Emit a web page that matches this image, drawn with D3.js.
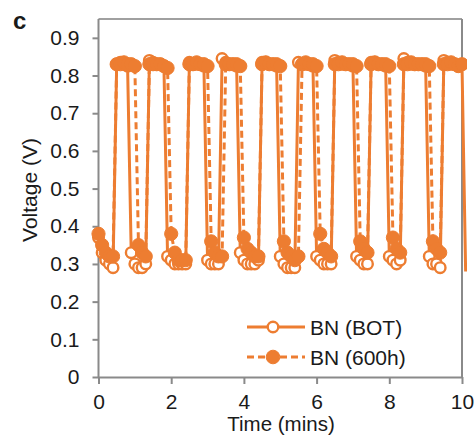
<!DOCTYPE html>
<html>
<head>
<meta charset="utf-8">
<script src="https://cdn.jsdelivr.net/npm/d3@7"></script>
<style>
  html, body { margin: 0; padding: 0; background: #fff; }
  svg text { font-family: "Liberation Sans", Arial, sans-serif; fill: #1a1a1a; }
</style>
</head>
<body>
<svg id="chart" width="476" height="439"></svg>
<script>
// ---- data ----
const seriesNames = ["BN (BOT)", "BN (600h)"];

const timeBOT = [0.0,0.1,0.2,0.3,0.4,0.5,0.6,0.7,0.8,0.9,1.0,1.1,1.2,1.3,1.4,1.5,1.6,1.7,1.8,1.9,
  2.0,2.1,2.2,2.3,2.4,2.5,2.6,2.7,2.8,2.9,3.0,3.1,3.2,3.3,3.4,3.5,3.6,3.7,3.8,3.9,
  4.0,4.1,4.2,4.3,4.4,4.5,4.6,4.7,4.8,4.9,5.0,5.1,5.2,5.3,5.4,5.5,5.6,5.7,5.8,5.9,
  6.0,6.1,6.2,6.3,6.4,6.5,6.6,6.7,6.8,6.9,7.0,7.1,7.2,7.3,7.4,7.5,7.6,7.7,7.8,7.9,
  8.0,8.1,8.2,8.3,8.4,8.5,8.6,8.7,8.8,8.9,9.0,9.1,9.2,9.3,9.4,9.5,9.6,9.7,9.8,9.9,10.0,10.1];
const voltBOT = [0.37,0.33,0.31,0.30,0.29,0.83,0.835,0.83,0.825,0.33,0.30,0.29,0.29,0.30,0.84,0.835,0.83,0.83,0.825,0.32,
  0.31,0.30,0.30,0.30,0.30,0.835,0.83,0.83,0.83,0.825,0.31,0.30,0.30,0.30,0.845,0.835,0.83,0.83,0.825,0.33,
  0.31,0.30,0.30,0.30,0.31,0.835,0.835,0.83,0.83,0.825,0.32,0.30,0.29,0.29,0.29,0.835,0.83,0.83,0.83,0.825,
  0.32,0.31,0.30,0.30,0.30,0.84,0.835,0.83,0.83,0.83,0.825,0.32,0.31,0.30,0.30,0.835,0.835,0.83,0.83,0.825,
  0.32,0.31,0.30,0.31,0.845,0.835,0.83,0.83,0.83,0.83,0.825,0.32,0.30,0.30,0.29,0.84,0.835,0.83,0.83,0.825,0.83,0.28];

const time600 = [0.0,0.1,0.2,0.3,0.4,0.5,0.6,0.7,0.8,0.9,1.0,1.1,1.2,1.3,1.4,1.5,1.6,1.7,1.8,1.9,
  2.0,2.1,2.2,2.3,2.4,2.5,2.6,2.7,2.8,2.9,3.0,3.1,3.2,3.3,3.4,3.5,3.6,3.7,3.8,3.9,
  4.0,4.1,4.2,4.3,4.4,4.5,4.6,4.7,4.8,4.9,5.0,5.1,5.2,5.3,5.4,5.5,5.6,5.7,5.8,5.9,
  6.0,6.1,6.2,6.3,6.4,6.5,6.6,6.7,6.8,6.9,7.0,7.1,7.2,7.3,7.4,7.5,7.6,7.7,7.8,7.9,
  8.0,8.1,8.2,8.3,8.4,8.5,8.6,8.7,8.8,8.9,9.0,9.1,9.2,9.3,9.4,9.5,9.6,9.7,9.8,9.9,10.0];
const volt600 = [0.38,0.35,0.33,0.32,0.32,0.83,0.83,0.835,0.83,0.83,0.825,0.35,0.33,0.32,0.83,0.83,0.83,0.83,0.825,0.82,
  0.38,0.33,0.31,0.31,0.31,0.83,0.83,0.835,0.83,0.83,0.825,0.36,0.33,0.32,0.32,0.83,0.83,0.83,0.83,0.825,
  0.37,0.34,0.33,0.32,0.32,0.83,0.835,0.83,0.83,0.83,0.825,0.36,0.33,0.32,0.31,0.32,0.83,0.835,0.83,0.83,
  0.825,0.38,0.34,0.33,0.32,0.83,0.83,0.835,0.83,0.83,0.83,0.825,0.36,0.34,0.33,0.83,0.835,0.83,0.83,0.83,
  0.825,0.37,0.34,0.33,0.83,0.83,0.835,0.83,0.83,0.83,0.83,0.825,0.36,0.34,0.33,0.83,0.83,0.835,0.83,0.825,0.83];

const xTicks = [0, 2, 4, 6, 8, 10];
const yTicks = [0, 0.1, 0.2, 0.3, 0.4, 0.5, 0.6, 0.7, 0.8, 0.9];
const yTickLabels = ["0", "0.1", "0.2", "0.3", "0.4", "0.5", "0.6", "0.7", "0.8", "0.9"];

// ---- layout ----
const color = "#ED7D31";
const axisColor = "#8a8a8a";
const svg = d3.select("#chart");
const pLeft = 98.5, pRight = 462, pTop = 19, pBottom = 377;

const x = d3.scaleLinear().domain([0, 10]).range([pLeft, pRight]);
const y = d3.scaleLinear().domain([0, 0.95]).range([pBottom, pTop]);

// frame (top and right)
svg.append("line").attr("x1", pLeft).attr("x2", pRight).attr("y1", pTop).attr("y2", pTop)
  .attr("stroke", "#a0a0a0").attr("stroke-width", 2);
svg.append("line").attr("x1", pRight).attr("x2", pRight).attr("y1", pTop).attr("y2", pBottom)
  .attr("stroke", axisColor).attr("stroke-width", 2);

// axes
const yAxis = svg.append("g").attr("transform", `translate(${pLeft},0)`)
  .call(d3.axisLeft(y).tickValues(yTicks).tickFormat((d, i) => yTickLabels[i])
    .tickSize(6).tickSizeOuter(0).tickPadding(13));
const xAxis = svg.append("g").attr("transform", `translate(0,${pBottom})`)
  .call(d3.axisBottom(x).tickValues(xTicks).tickSize(7).tickSizeOuter(0).tickPadding(10));
[yAxis, xAxis].forEach(g => {
  g.select(".domain").attr("stroke", axisColor).attr("stroke-width", 2);
  g.selectAll(".tick line").attr("stroke", axisColor).attr("stroke-width", 2);
  g.selectAll(".tick text").attr("font-size", 21).attr("fill", "#1a1a1a")
    .style("font-family", "'Liberation Sans', Arial, sans-serif");
});
yAxis.select(".domain").attr("d", `M0,${pBottom}V${pTop}`);

// titles
svg.append("text").attr("x", 13).attr("y", 29).attr("font-size", 24).attr("font-weight", "bold").text("c");
svg.append("text").attr("transform", `translate(37,190) rotate(-90)`).attr("text-anchor", "middle")
  .attr("font-size", 21).text("Voltage (V)");
svg.append("text").attr("x", 281).attr("y", 431).attr("text-anchor", "middle")
  .attr("font-size", 20.5).text("Time (mins)");

// clip
svg.append("clipPath").attr("id", "clip").append("rect")
  .attr("x", pLeft - 10).attr("y", 0).attr("width", pRight - pLeft + 15).attr("height", 439);

const plot = svg.append("g").attr("clip-path", "url(#clip)");
const line = d3.line().x(d => x(d[0])).y(d => y(d[1]));

const dataBOT = timeBOT.map((t, i) => [t, voltBOT[i]]);
const data600 = time600.map((t, i) => [t, volt600[i]]);

// series 1: BOT, solid with open circles
plot.append("path").datum(dataBOT).attr("d", line).attr("fill", "none")
  .attr("stroke", color).attr("stroke-width", 3).attr("stroke-linejoin", "round");
plot.selectAll(".mBOT").data(dataBOT.filter(d => d[0] <= 10)).enter().append("circle")
  .attr("cx", d => x(d[0])).attr("cy", d => y(d[1])).attr("r", 5.3)
  .attr("fill", "#fff").attr("stroke", color).attr("stroke-width", 2.4);

// series 2: 600h, dashed with filled circles
plot.append("path").datum(data600).attr("d", line).attr("fill", "none")
  .attr("stroke", color).attr("stroke-width", 3).attr("stroke-dasharray", "7,4");
plot.selectAll(".m600").data(data600).enter().append("circle")
  .attr("cx", d => x(d[0])).attr("cy", d => y(d[1])).attr("r", 6.6)
  .attr("fill", color).attr("stroke", color).attr("stroke-width", 1);

// legend
const legend = svg.append("g");
const rows = [{ y: 327, dash: null, filled: false }, { y: 357, dash: "7,4", filled: true }];
rows.forEach((r, i) => {
  legend.append("line").attr("x1", 247).attr("x2", 305).attr("y1", r.y).attr("y2", r.y)
    .attr("stroke", color).attr("stroke-width", 3).attr("stroke-dasharray", r.dash);
  legend.append("circle").attr("cx", 273).attr("cy", r.y).attr("r", r.filled ? 6.8 : 5.3)
    .attr("fill", r.filled ? color : "#fff").attr("stroke", color).attr("stroke-width", r.filled ? 1 : 2.4);
  legend.append("text").attr("x", 310).attr("y", r.y).attr("dy", "0.36em")
    .attr("font-size", 21).text(seriesNames[i]);
});
</script>
</body>
</html>
